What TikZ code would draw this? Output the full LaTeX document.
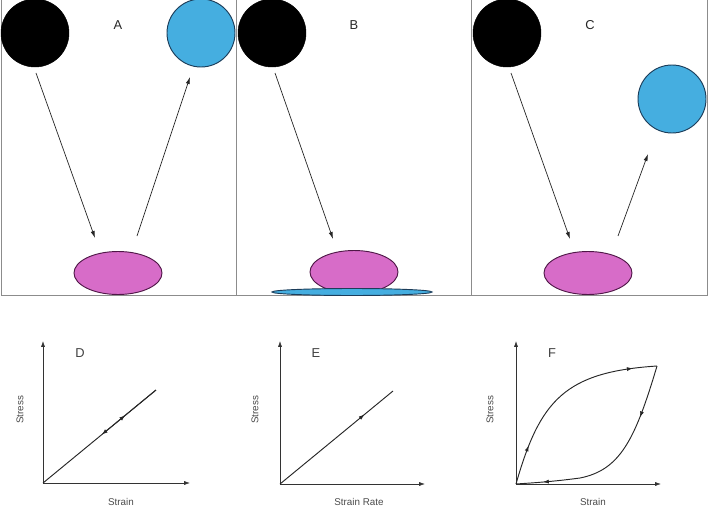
\documentclass[tikz,border=0pt]{standalone}
\usepackage{fontspec}
\setmainfont{Liberation Sans}
\usetikzlibrary{arrows.meta,positioning,calc,shapes.geometric,decorations.markings}
\definecolor{ballblue}{HTML}{45AEE0}
\definecolor{ballline}{HTML}{1C3D5A}
\definecolor{droppink}{HTML}{D76CC8}
\definecolor{dropline}{HTML}{4F1747}
\definecolor{framegray}{HTML}{8C8C8C}
\definecolor{axisgray}{HTML}{333333}
\definecolor{labelgray}{HTML}{4A4A4A}

\begin{document}
\begin{tikzpicture}[x=0.03cm, y=-0.03cm, every node/.style={inner sep=0pt},
  blackball/.style={circle, fill=black, draw=black, minimum size=2.04cm},
  blueball/.style={circle, fill=ballblue, draw=ballline, line width=0.8pt, minimum size=2.04cm},
  drop/.style={ellipse, fill=droppink, draw=dropline, line width=0.8pt, minimum width=2.64cm, minimum height=1.29cm},
  film/.style={ellipse, fill=ballblue, draw=ballline, line width=0.8pt, minimum width=4.8cm, minimum height=0.21cm},
  letter/.style={font=\fontsize{11}{13}\selectfont, text=black!85},
  axislabel/.style={font=\fontsize{8.4}{10}\selectfont, text=labelgray},
  frame/.style={draw=framegray, line width=0.8pt},
  path/.style={draw=black!85, line width=0.6pt, -{Latex[length=6pt,width=3.5pt]}},
  axis/.style={draw=axisgray, line width=0.6pt, -{Latex[length=5pt,width=3.5pt]}},
  curve/.style={draw=black!85, line width=0.8pt},
  flow/.style={postaction={decorate, decoration={markings, mark=at position #1 with {\arrow{Latex[length=5pt,width=3.5pt]}}}}}]
  \useasboundingbox (0,0) rectangle (709,508);

  % panel frames
  \draw[frame] (1,0) -- (1,295) -- (707,295) -- (707,0);
  \draw[frame] (236,0) -- (236,295);
  \draw[frame] (471,0) -- (471,295);

  % A: bounce
  \node[blackball] (blackA) at (35,33) {};
  \node[blueball] (blueA) at (201,33) {};
  \node[drop] (dropA) at (118,273) {};
  \node[letter] (labA) at (118,25) {A};
  \coordinate (inA) at (36,73);
  \coordinate (hitA) at (95,238);
  \coordinate (outA) at (137,236);
  \coordinate (upA) at (190,77);
  \draw[path] (inA) -- (hitA);
  \draw[path] (outA) -- (upA);

  % B: spread
  \node[blackball] (blackB) at (272,33) {};
  \node[drop] (dropB) at (354,272) {};
  \node[film] (filmB) at (352,292) {};
  \node[letter] (labB) at (354,25) {B};
  \coordinate (inB) at (275,73);
  \coordinate (hitB) at (333,239);
  \draw[path] (inB) -- (hitB);

  % C: partial bounce
  \node[blackball] (blackC) at (507,33) {};
  \node[blueball] (blueC) at (672,99) {};
  \node[drop] (dropC) at (588,273) {};
  \node[letter] (labC) at (590,25) {C};
  \coordinate (inC) at (511,73);
  \coordinate (hitC) at (570,239);
  \coordinate (outC) at (618,236);
  \coordinate (upC) at (648,154);
  \draw[path] (inC) -- (hitC);
  \draw[path] (outC) -- (upC);

  % D
  \coordinate (oD) at (43,483);
  \coordinate (yD) at (43,341);
  \coordinate (xD) at (190,483);
  \coordinate (tD) at (156,390);
  \coordinate (bD) at ($(oD)!0.52!(tD)$);
  \draw[axis] (oD) -- (yD);
  \draw[axis] (oD) -- (xD);
  \node[letter, text=black!75] (labD) at (80,353) {D};
  \node[axislabel, rotate=90] (stressD) at (20,410) {Stress};
  \node[axislabel] (strainD) at (121,502) {Strain};
  \draw[curve, flow=0.73] (oD) -- (tD);
  \draw[curve, -{Latex[length=5pt,width=3.5pt]}] (tD) -- (bD);

  % E
  \coordinate (oE) at (280,484);
  \coordinate (yE) at (280,341);
  \coordinate (xE) at (425,484);
  \coordinate (tE) at (393,391);
  \draw[axis] (oE) -- (yE);
  \draw[axis] (oE) -- (xE);
  \node[letter, text=black!75] (labE) at (316,353) {E};
  \node[axislabel, rotate=90] (stressE) at (255,410) {Stress};
  \node[axislabel] (rateE) at (359,502) {Strain Rate};
  \draw[curve, flow=0.75] (oE) -- (tE);

  % F
  \coordinate (oF) at (516,484);
  \coordinate (yF) at (516,341);
  \coordinate (xF) at (661,484);
  \coordinate (tF) at (657,366);
  \draw[axis] (oF) -- (yF);
  \draw[axis] (oF) -- (xF);
  \node[letter, text=black!75] (labF) at (552,353) {F};
  \node[axislabel, rotate=90] (stressF) at (490,410) {Stress};
  \node[axislabel] (strainF) at (593,502) {Strain};
  \draw[curve, flow=0.2, flow=0.88] (oF) .. controls (540,400) and (565,372) .. (tF);
  \draw[curve, flow=0.26, flow=0.87] (tF) .. controls (635,440) and (620,470) .. (580,478)
    .. controls (550,482) and (530,483) .. (oF);
\end{tikzpicture}
\end{document}
